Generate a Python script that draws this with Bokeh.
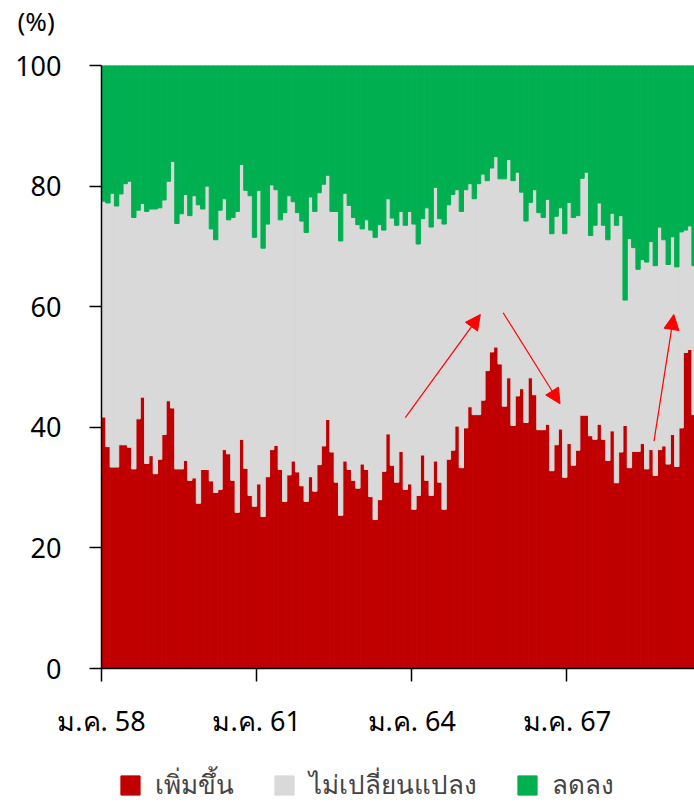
from bokeh.plotting import figure
from bokeh.layouts import column
from bokeh.models import (Range1d, FixedTicker, Legend, LegendItem, Arrow,
                          NormalHead, ColumnDataSource)
from bokeh.embed import file_html
from bokeh.resources import INLINE

# Monthly share of respondents (%), Jan 2558 onward
increase = [41.7, 36.8, 33.4, 33.4, 37.1, 37.1, 36.7, 33.1, 41.4, 45.0, 34.0, 35.3,
            32.3, 34.7, 38.8, 44.4, 43.2, 33.1, 33.1, 34.5, 31.2, 31.6, 27.4, 33.0,
            33.0, 31.1, 29.2, 29.7, 36.3, 35.6, 31.2, 25.9, 38.0, 33.2, 28.7, 26.9,
            30.6, 25.2, 31.8, 36.3, 37.0, 33.0, 27.7, 32.1, 34.4, 32.6, 30.3, 27.7,
            31.8, 29.4, 33.8, 36.9, 41.3, 35.9, 30.9, 25.4, 34.4, 33.0, 31.2, 29.9,
            33.9, 33.0, 28.5, 24.7, 28.0, 32.7, 38.9, 33.7, 30.9, 36.0, 29.7, 30.6,
            26.4, 28.7, 35.4, 31.2, 28.7, 34.4, 30.9, 26.4, 34.7, 36.2, 40.2, 33.3,
            39.9, 43.4, 42.1, 42.1, 44.5, 49.4, 52.5, 53.3, 50.5, 43.5, 48.2, 40.3,
            45.2, 46.4, 40.8, 48.2, 45.4, 39.6, 39.6, 40.5, 32.8, 37.1, 39.7, 31.7,
            37.3, 33.7, 36.2, 42.0, 42.0, 38.6, 38.0, 40.5, 38.0, 34.5, 39.4, 30.8,
            35.9, 40.3, 33.3, 36.0, 36.0, 37.3, 33.1, 36.3, 32.0, 36.3, 36.9, 33.9,
            38.8, 33.5, 39.9, 52.4, 52.9, 42.1]

unchanged = [35.8, 40.4, 45.4, 43.3, 41.6, 43.3, 44.1, 41.7, 34.6, 32.1, 41.8, 40.9,
             43.9, 41.7, 38.9, 36.4, 40.9, 40.7, 42.3, 44.1, 43.9, 46.8, 49.5, 43.2,
             47.0, 41.8, 41.9, 46.3, 41.6, 38.8, 43.6, 49.9, 45.6, 46.1, 49.7, 44.6,
             48.7, 44.5, 41.9, 43.9, 42.4, 41.4, 47.9, 46.3, 43.0, 43.0, 43.9, 44.6,
             46.4, 46.4, 45.1, 43.4, 40.5, 39.9, 44.9, 45.5, 44.4, 43.8, 43.6, 43.7,
             39.0, 41.4, 44.2, 46.8, 45.6, 40.0, 39.0, 41.0, 42.6, 39.8, 43.8, 45.2,
             47.3, 41.7, 39.2, 45.2, 44.5, 45.4, 43.7, 47.3, 42.2, 42.4, 39.2, 42.5,
             39.5, 37.0, 35.8, 38.3, 37.5, 31.5, 30.5, 31.6, 30.7, 37.7, 36.2, 40.6,
             37.1, 32.6, 33.4, 29.1, 34.0, 36.0, 35.2, 37.3, 39.3, 37.9, 36.7, 40.4,
             40.0, 41.1, 38.9, 39.3, 40.3, 33.2, 35.5, 36.7, 35.5, 36.6, 36.1, 42.7,
             39.2, 20.8, 38.0, 33.8, 30.2, 30.5, 34.3, 34.5, 34.8, 36.9, 34.2, 33.1,
             32.8, 33.1, 32.5, 20.3, 20.5, 24.7]

decrease = [22.5, 22.8, 21.2, 23.3, 21.3, 19.6, 19.2, 25.2, 24.0, 22.9, 24.2, 23.8,
            23.8, 23.6, 22.3, 19.2, 15.9, 26.2, 24.6, 21.4, 24.9, 21.6, 23.1, 23.8,
            20.0, 27.1, 28.9, 24.0, 22.1, 25.6, 25.2, 24.2, 16.4, 20.7, 21.6, 28.5,
            20.7, 30.3, 26.3, 19.8, 20.6, 25.6, 24.4, 21.6, 22.6, 24.4, 25.8, 27.7,
            21.8, 24.2, 21.1, 19.7, 18.2, 24.2, 24.2, 29.1, 21.2, 23.2, 25.2, 26.4,
            27.1, 25.6, 27.3, 28.5, 26.4, 27.3, 22.1, 25.3, 26.5, 24.2, 26.5, 24.2,
            26.3, 29.6, 25.4, 23.6, 26.8, 20.2, 25.4, 26.3, 23.1, 21.4, 20.6, 24.2,
            20.6, 19.6, 22.1, 19.6, 18.0, 19.1, 17.0, 15.1, 18.8, 18.8, 15.6, 19.1,
            17.7, 21.0, 25.8, 22.7, 20.6, 24.4, 25.2, 22.2, 27.9, 25.0, 23.6, 27.9,
            22.7, 25.2, 24.9, 18.7, 17.7, 28.2, 26.5, 22.8, 26.5, 28.9, 24.5, 26.5,
            24.9, 38.9, 28.7, 30.2, 33.8, 32.2, 32.6, 29.2, 33.2, 26.8, 28.9, 33.0,
            28.4, 33.4, 27.6, 27.3, 26.6, 33.2]

series_names = ["เพิ่มขึ้น", "ไม่เปลี่ยนแปลง", "ลดลง"]
series_colors = ["#C00000", "#D9D9D9", "#00B050"]

tick_months = [0, 36, 72, 108]
tick_labels = ["ม.ค. 58", "ม.ค. 61", "ม.ค. 64", "ม.ค. 67"]
y_ticks = [0, 20, 40, 60, 80, 100]
unit_label = "(%)"

# trend arrows (month index, percent)
arrows = [
    (70.5, 41.6, 87.9, 58.7),
    (93.2, 59.0, 106.4, 43.9),
    (128.2, 37.7, 132.8, 58.7),
]

FONT = "Noto Sans"
W = 694
LEFT = 101
n = len(increase)
month_pos = [i + 0.5 for i in range(n)]

src = ColumnDataSource(dict(x=month_pos, inc=increase, unch=unchanged, dec=decrease))


def bare(height, title=None):
    f = figure(width=W, height=height, output_backend="svg", toolbar_location=None,
               x_range=Range1d(0, 137.6), y_range=Range1d(200, 240),
               x_axis_type=None, y_axis_type=None, title=title,
               min_border_left=LEFT, min_border_right=0, min_border_top=0,
               min_border_bottom=0)
    f.outline_line_color = None
    f.xgrid.grid_line_color = None
    f.ygrid.grid_line_color = None
    f.background_fill_color = "white"
    f.border_fill_color = "white"
    return f


# --- unit label strip (top) ---
top = bare(40, title=unit_label)
top.title.align = "left"
top.title.offset = -84
top.title.standoff = 0
top.title.text_font = FONT
top.title.text_font_size = "26px"
top.title.text_font_style = "normal"
top.title.text_color = "black"

# --- main chart ---
p = figure(width=W, height=712, output_backend="svg", toolbar_location=None,
           x_range=Range1d(0, 137.6), y_range=Range1d(0, 100),
           min_border_left=LEFT, min_border_right=0, min_border_top=25,
           min_border_bottom=84)

renderers = p.vbar_stack(["inc", "unch", "dec"], x="x", width=1.0, source=src,
                         fill_color=series_colors, line_color=series_colors,
                         line_width=1)

p.outline_line_color = None
p.xgrid.grid_line_color = None
p.ygrid.grid_line_color = None
p.background_fill_color = "white"
p.border_fill_color = "white"

p.xaxis.ticker = FixedTicker(ticks=tick_months)
p.xaxis.major_label_overrides = {t: l for t, l in zip(tick_months, tick_labels)}
p.xaxis.major_tick_out = 13
p.xaxis.major_tick_in = 0
p.xaxis.minor_tick_line_color = None
p.xaxis.axis_line_color = "black"
p.xaxis.axis_line_width = 1.5
p.xaxis.major_tick_line_width = 1.5
p.xaxis.major_label_standoff = 20
p.xaxis.major_label_text_font = FONT
p.xaxis.major_label_text_font_size = "27px"
p.xaxis.major_label_text_color = "black"

p.yaxis.ticker = FixedTicker(ticks=y_ticks)
p.yaxis.major_tick_out = 12
p.yaxis.major_tick_in = 0
p.yaxis.minor_tick_line_color = None
p.yaxis.axis_line_color = "black"
p.yaxis.axis_line_width = 1.5
p.yaxis.major_tick_line_width = 1.5
p.yaxis.major_label_standoff = 28
p.yaxis.major_label_text_font = FONT
p.yaxis.major_label_text_font_size = "27px"
p.yaxis.major_label_text_color = "black"

for xs, ys, xe, ye in arrows:
    p.add_layout(Arrow(end=NormalHead(size=15, fill_color="red", line_color="red"),
                       x_start=xs, y_start=ys, x_end=xe, y_end=ye,
                       line_color="red", line_width=1.2))

# --- legend strip (bottom); swatches reuse the stacked-bar styling ---
leg = bare(54)
leg_renderers = leg.vbar_stack(["inc", "unch", "dec"], x="x", width=1.0, source=src,
                               fill_color=series_colors, line_color=series_colors)
legend = Legend(items=[LegendItem(label=nm, renderers=[r])
                       for nm, r in zip(series_names, leg_renderers)],
                orientation="horizontal", location=(17, 1), padding=0, margin=0,
                spacing=38, label_standoff=13, glyph_width=24, glyph_height=24,
                label_text_font=FONT, label_text_font_size="26px",
                border_line_color=None, background_fill_alpha=0)
leg.add_layout(legend)

layout = column(top, p, leg, spacing=0)

open("out.html", "w").write(file_html(layout, INLINE))
